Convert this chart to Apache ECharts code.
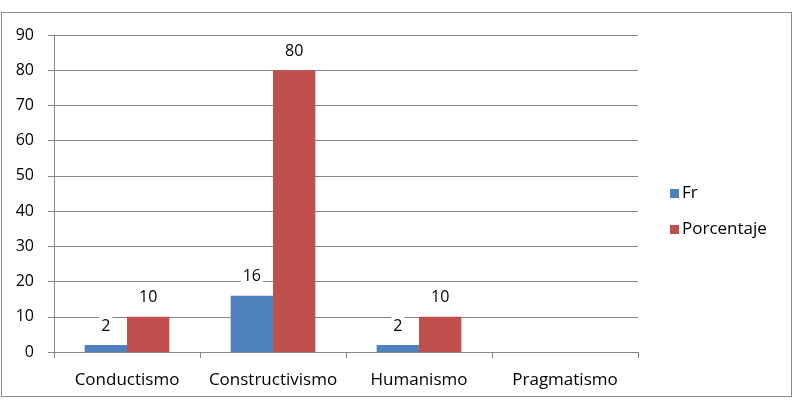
<!DOCTYPE html>
<html><head><meta charset="utf-8">
<script src="https://cdn.jsdelivr.net/npm/echarts@6/dist/echarts.min.js"></script>
<style>html,body{margin:0;padding:0;background:#fff}#c{width:798px;height:402px;position:relative}
#frame{position:absolute;left:1px;top:12px;width:791px;height:385px;border:1px solid #8c8c8c;box-sizing:border-box;pointer-events:none}</style>
</head><body><div id="c"></div><div id="frame"></div>
<script>
var categories = ['Conductismo', 'Constructivismo', 'Humanismo', 'Pragmatismo'];
var frValues = [2, 16, 2, null];
var porcentajeValues = [10, 80, 10, null];
var seriesNames = ['Fr', 'Porcentaje'];
var yTicks = [0, 10, 20, 30, 40, 50, 60, 70, 80, 90];

var chart = echarts.init(document.getElementById('c'), null, {renderer: 'canvas'});
var font = 'Open Sans';
var lbl = {show: true, position: 'top', distance: 9, color: '#000', fontSize: 16, fontFamily: font,
  backgroundColor: '#fff', padding: [0, 2], lineHeight: 20};
chart.setOption({
  animation: false,
  backgroundColor: '#fff',
  grid: {left: 54, top: 35, right: 160, bottom: 50, containLabel: false},
  legend: {
    orient: 'vertical', left: 665, top: 177, itemWidth: 9, itemHeight: 9, itemGap: 13,
    icon: 'rect',
    textStyle: {fontSize: 17, fontFamily: font, color: '#000', padding: [0, 0, 0, -2], lineHeight: 23},
    data: seriesNames
  },
  xAxis: {
    type: 'category', data: categories,
    axisLine: {lineStyle: {color: '#868686'}},
    axisTick: {show: true, length: 6, alignWithLabel: false, lineStyle: {color: '#868686'}},
    axisLabel: {color: '#000', fontSize: 17, fontFamily: font, margin: 20, interval: 0}
  },
  yAxis: {
    type: 'value', min: yTicks[0], max: yTicks[yTicks.length - 1], interval: 10,
    axisLine: {show: true, lineStyle: {color: '#868686'}},
    axisTick: {show: true, length: 6, lineStyle: {color: '#868686'}},
    splitLine: {lineStyle: {color: '#868686'}},
    axisLabel: {color: '#000', fontSize: 16, fontFamily: font, margin: 20}
  },
  series: [
    {name: seriesNames[0], type: 'bar', data: frValues, itemStyle: {color: '#4F81BD'},
     barGap: '0%', barCategoryGap: '42%', label: lbl},
    {name: seriesNames[1], type: 'bar', data: porcentajeValues, itemStyle: {color: '#C0504D'},
     barGap: '0%', barCategoryGap: '42%', label: lbl}
  ]
});
</script></body></html>
